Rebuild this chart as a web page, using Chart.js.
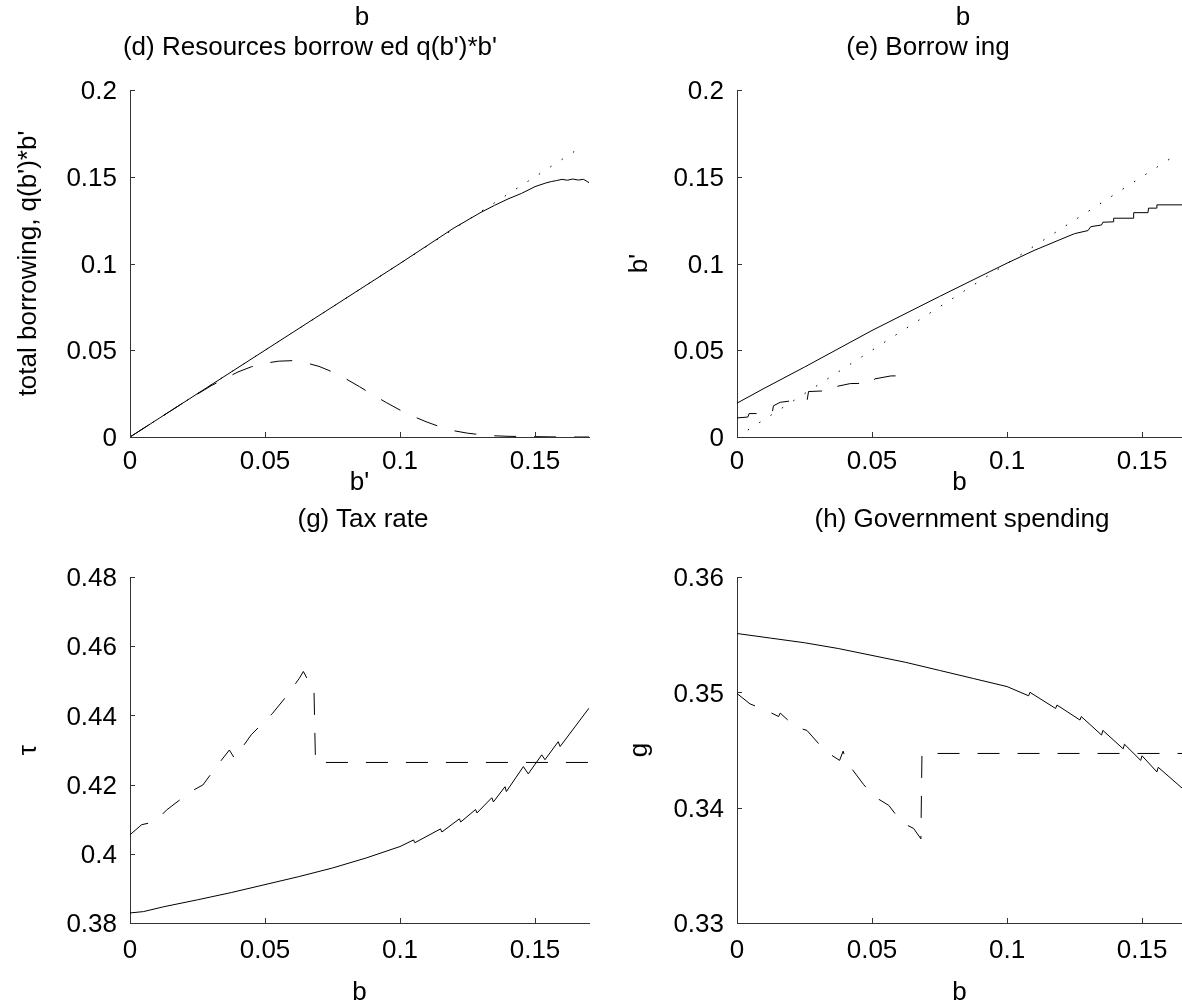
<!DOCTYPE html>
<html>
<head>
<meta charset="utf-8">
<title>Borrowing, tax rate and government spending</title>
<script src="https://cdn.jsdelivr.net/npm/chart.js@4.4.1/dist/chart.umd.min.js"></script>
<style>
    html, body { margin: 0; padding: 0; background: #fff; overflow: hidden; }
    #page { position: relative; width: 1182px; height: 1005px; font-family: 'Liberation Sans', Arial, sans-serif; color: #000; }
    #page canvas { position: absolute; }
    .lbl { position: absolute; font-size: 26px; line-height: 30px; white-space: pre; transform: translateX(-50%); }
</style>
</head>
<body>
<div id="page">
    <canvas id="chart-d" width="600" height="524" style="left:0;top:0"></canvas>
    <canvas id="chart-e" width="582" height="524" style="left:600px;top:0"></canvas>
    <canvas id="chart-g" width="600" height="488" style="left:0;top:520px"></canvas>
    <canvas id="chart-h" width="582" height="488" style="left:600px;top:520px"></canvas>

    <div class="lbl" style="left:362px;top:1px">b</div>
    <div class="lbl" style="left:963px;top:1px">b</div>
    <div class="lbl" style="left:310px;top:31px">(d) Resources borrow ed q(b')*b'</div>
    <div class="lbl" style="left:928px;top:31px">(e) Borrow ing</div>
    <div class="lbl" style="left:363px;top:503px">(g) Tax rate</div>
    <div class="lbl" style="left:962px;top:503px">(h) Government spending</div>
</div>

<script>
// ---- tick values ----
const xTicks = [0, 0.05, 0.1, 0.15];
const yTicksBorrow = [0, 0.05, 0.1, 0.15, 0.2];
const yTicksTax = [0.38, 0.4, 0.42, 0.44, 0.46, 0.48];
const yTicksSpend = [0.33, 0.34, 0.35, 0.36];

// ---- (d) resources borrowed q(b')*b' against b' ----
const dSolidB = [0, 0.02, 0.04, 0.06, 0.08, 0.1, 0.12, 0.13, 0.135, 0.14, 0.145, 0.15, 0.154, 0.156, 0.158, 0.16, 0.162, 0.164, 0.166, 0.168, 0.17];
const dSolidQ = [0, 0.02, 0.04, 0.06, 0.08, 0.1, 0.1205, 0.1295, 0.1335, 0.1372, 0.1404, 0.1443, 0.1464, 0.1472, 0.1478, 0.1485, 0.1480, 0.1487, 0.1481, 0.1485, 0.1466];
const dDashB = [0, 0.01, 0.02, 0.03, 0.035, 0.04, 0.045, 0.05, 0.055, 0.06, 0.065, 0.07, 0.075, 0.08, 0.085, 0.09, 0.095, 0.1, 0.105, 0.11, 0.115, 0.12, 0.125, 0.13, 0.135, 0.14, 0.15, 0.16, 0.17];
const dDashQ = [0, 0.01, 0.02, 0.0295, 0.0335, 0.0375, 0.0405, 0.0425, 0.0437, 0.0440, 0.0428, 0.0407, 0.0375, 0.0335, 0.0290, 0.0243, 0.0198, 0.0155, 0.0118, 0.0086, 0.0058, 0.0036, 0.0022, 0.0013, 0.0007, 0.0004, 0.0002, 0, 0];
const dDotB = [0, 0.166];
const dDotQ = [0, 0.166];

// ---- (e) borrowing b' against b ----
const eSolidB = [0, 0.01, 0.025, 0.05, 0.075, 0.1, 0.11, 0.12, 0.125, 0.13, 0.131, 0.135, 0.1355, 0.1393, 0.1395, 0.1467, 0.1469, 0.1522, 0.1524, 0.1553, 0.1555, 0.1648];
const eSolid = [0.0195, 0.028, 0.0403, 0.0614, 0.081, 0.1002, 0.1075, 0.1140, 0.1172, 0.1190, 0.1212, 0.1222, 0.1238, 0.1240, 0.1261, 0.1261, 0.1293, 0.1293, 0.1319, 0.1319, 0.1338, 0.1338];
const eDashB = [0, 0.004, 0.0045, 0.013, 0.0135, 0.016, 0.022, 0.026, 0.0265, 0.036, 0.0365, 0.042, 0.0505, 0.051, 0.057, 0.065];
const eDash = [0.011, 0.0115, 0.0135, 0.0135, 0.0180, 0.0200, 0.0212, 0.0215, 0.0262, 0.0268, 0.0290, 0.0308, 0.0310, 0.0335, 0.0352, 0.0353];
const eDotB = [0.004, 0.163];
const eDot = [0.004, 0.163];

// ---- (g) tax rate against b ----
const gSolidB = [0, 0.005, 0.0125, 0.025, 0.0375, 0.05, 0.0625, 0.075, 0.0875, 0.1, 0.105, 0.1055, 0.115, 0.1155, 0.122, 0.1225, 0.128, 0.1285, 0.134, 0.1346, 0.1389, 0.1394, 0.1457, 0.1475, 0.1525, 0.1537, 0.1586, 0.1593, 0.17];
const gSolid = [0.3829, 0.3833, 0.3847, 0.3867, 0.3888, 0.3911, 0.3934, 0.3959, 0.3988, 0.4021, 0.4040, 0.4032, 0.4072, 0.4063, 0.4101, 0.4092, 0.4128, 0.4118, 0.4162, 0.4150, 0.4194, 0.4180, 0.4252, 0.4231, 0.4286, 0.4272, 0.4324, 0.4310, 0.4421];
const gDashB = [0, 0.0043, 0.0093, 0.0136, 0.0185, 0.0204, 0.027, 0.032, 0.0368, 0.0387, 0.0449, 0.0528, 0.0578, 0.0627, 0.0642, 0.0657, 0.0681, 0.0687, 0.17];
const gDash = [0.4055, 0.4084, 0.4093, 0.4127, 0.4156, 0.4171, 0.4199, 0.4252, 0.4300, 0.4276, 0.4344, 0.4406, 0.4454, 0.4507, 0.4527, 0.4505, 0.4488, 0.4264, 0.4264];

// ---- (h) government spending against b ----
const hSolidB = [0, 0.0125, 0.025, 0.0375, 0.05, 0.0625, 0.075, 0.0875, 0.1, 0.108, 0.1085, 0.118, 0.1185, 0.127, 0.1275, 0.135, 0.1355, 0.143, 0.1435, 0.1495, 0.15, 0.1555, 0.156, 0.1648];
const hSolid = [0.3551, 0.3547, 0.3543, 0.3538, 0.3532, 0.3526, 0.3519, 0.3512, 0.3505, 0.3497, 0.3500, 0.3486, 0.3489, 0.3476, 0.3479, 0.3463, 0.3467, 0.3451, 0.3455, 0.3441, 0.3445, 0.3431, 0.3435, 0.3417];
const hDashB = [0, 0.0048, 0.0111, 0.0154, 0.016, 0.0216, 0.0259, 0.0327, 0.038, 0.0393, 0.0405, 0.0469, 0.0506, 0.0562, 0.0611, 0.0654, 0.0681, 0.0685, 0.1648];
const hDash = [0.3499, 0.3490, 0.3484, 0.3479, 0.3482, 0.3470, 0.3467, 0.3449, 0.3441, 0.3449, 0.3440, 0.3420, 0.3410, 0.3402, 0.3387, 0.3382, 0.3373, 0.3447, 0.3447];

const FONT = { family: "'Liberation Sans', Arial, sans-serif", size: 26 };
const AXIS_COLOR = '#333';
const TICK_LEN = 5;

const DASHED = [22, 18];
const DOTTED = [1.5, 12];

/**
 * Pair two value lists into {x, y} points
 */
function pts(xs, ys) {
    return xs.map((x, i) => ({ x: x, y: ys[i] }));
}

function series(xs, ys, dash) {
    return {
        data: pts(xs, ys),
        borderColor: '#000',
        borderWidth: 1,
        borderDash: dash || [],
        pointRadius: 0,
        tension: 0,
        fill: false
    };
}

/**
 * MATLAB style tick marks pointing into the plot
 */
const inwardTicks = {
    id: 'inwardTicks',
    afterDraw(chart) {
        const { ctx, chartArea: a, scales: { x, y } } = chart;
        ctx.save();
        ctx.strokeStyle = AXIS_COLOR;
        ctx.lineWidth = 1;
        ctx.beginPath();
        x.ticks.forEach(t => {
            const px = Math.round(x.getPixelForValue(t.value)) + 0.5;
            ctx.moveTo(px, a.bottom);
            ctx.lineTo(px, a.bottom - TICK_LEN);
        });
        y.ticks.forEach(t => {
            const py = Math.round(y.getPixelForValue(t.value)) + 0.5;
            ctx.moveTo(a.left, py);
            ctx.lineTo(a.left + TICK_LEN, py);
        });
        ctx.stroke();
        ctx.restore();
    }
};

function buildPanel(id, p) {
    return new Chart(document.getElementById(id), {
        type: 'line',
        data: { datasets: p.series },
        options: {
            responsive: false,
            animation: false,
            devicePixelRatio: 1,
            layout: { padding: { top: p.padTop, right: p.padRight, bottom: p.padBottom, left: 0 } },
            plugins: {
                legend: { display: false },
                tooltip: { enabled: false },
                title: { display: false }
            },
            scales: {
                x: {
                    type: 'linear',
                    position: 'bottom',
                    min: 0,
                    max: p.xMax,
                    grid: { display: false, drawTicks: false },
                    border: { display: true, color: AXIS_COLOR, width: 1 },
                    ticks: {
                        color: '#000', font: FONT, padding: p.xTickPad, maxRotation: 0,
                        autoSkip: false, includeBounds: false,
                        callback: v => String(v)
                    },
                    title: { display: true, text: p.xTitle, color: '#000', font: FONT, padding: { top: 0, bottom: 0 } },
                    afterBuildTicks: s => { s.ticks = xTicks.map(v => ({ value: v })); },
                    afterFit: s => { s.height = p.xHeight; }
                },
                y: {
                    type: 'linear',
                    position: 'left',
                    min: p.yTicks[0],
                    max: p.yTicks[p.yTicks.length - 1],
                    grid: { display: false, drawTicks: false },
                    border: { display: true, color: AXIS_COLOR, width: 1 },
                    ticks: {
                        color: '#000', font: FONT, padding: 13, labelOffset: 2,
                        autoSkip: false, includeBounds: false,
                        callback: v => String(v)
                    },
                    title: { display: true, text: p.yTitle, color: '#000', font: FONT, padding: { top: p.yTitlePad, bottom: 0 } },
                    afterBuildTicks: s => { s.ticks = p.yTicks.map(v => ({ value: v })); },
                    afterFit: s => { s.width = p.yWidth; }
                }
            }
        },
        plugins: [inwardTicks]
    });
}

document.addEventListener('DOMContentLoaded', function() {
    buildPanel('chart-d', {
        series: [series(dDotB, dDotQ, DOTTED), series(dDashB, dDashQ, DASHED), series(dSolidB, dSolidQ)],
        xMax: 0.17, yTicks: yTicksBorrow,
        xTitle: "b'", yTitle: "total borrowing, q(b')*b'",
        padTop: 90, padRight: 11, padBottom: 26, yWidth: 130, xHeight: 61, xTickPad: 9, yTitlePad: 13
    });
    buildPanel('chart-e', {
        series: [series(eDotB, eDot, DOTTED), series(eDashB, eDash, DASHED), series(eSolidB, eSolid)],
        xMax: 0.1648, yTicks: yTicksBorrow,
        xTitle: 'b', yTitle: "b'",
        padTop: 90, padRight: 0, padBottom: 26, yWidth: 137, xHeight: 61, xTickPad: 9, yTitlePad: 24
    });
    buildPanel('chart-g', {
        series: [series(gDashB, gDash, DASHED), series(gSolidB, gSolid)],
        xMax: 0.17, yTicks: yTicksTax,
        xTitle: 'b', yTitle: 'τ',
        padTop: 57, padRight: 11, padBottom: 0, yWidth: 130, xHeight: 85, xTickPad: 12, yTitlePad: 13
    });
    buildPanel('chart-h', {
        series: [series(hDashB, hDash, DASHED), series(hSolidB, hSolid)],
        xMax: 0.1648, yTicks: yTicksSpend,
        xTitle: 'b', yTitle: 'g',
        padTop: 57, padRight: 0, padBottom: 0, yWidth: 137, xHeight: 85, xTickPad: 12, yTitlePad: 24
    });
});
</script>
</body>
</html>
